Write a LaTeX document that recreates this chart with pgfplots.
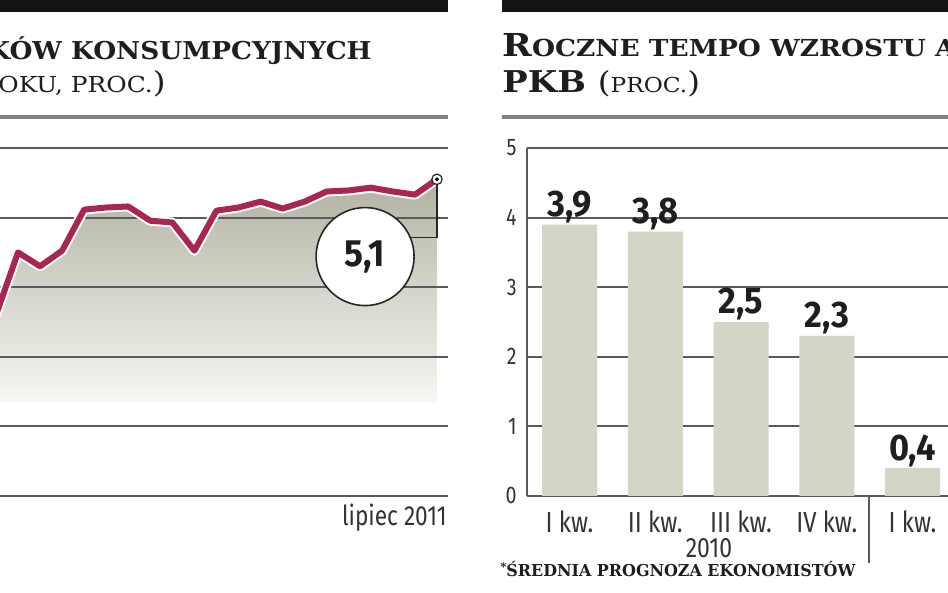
\documentclass[border=0pt]{standalone}
\usepackage{pgfplots}
\pgfplotsset{compat=1.18}
\usepackage{pgfplotstable}
\usepackage{fontspec}
\setmainfont{Fira Sans}
\newfontfamily\cond[FakeStretch=0.82]{Fira Sans}
\newfontfamily\condb[FakeStretch=0.93]{Fira Sans}
\newfontfamily\slab[FakeStretch=1.13]{DejaVu Serif}
\newfontfamily\slabl[FakeStretch=1.07]{DejaVu Serif}
\newfontfamily\slabf[FakeStretch=0.97]{DejaVu Serif}
\definecolor{crim}{HTML}{A82650}
\definecolor{gridc}{HTML}{5A5A5A}
\definecolor{barc}{HTML}{D4D4C7}
\definecolor{filltop}{HTML}{B2B2A2}
\definecolor{fillbot}{HTML}{F7F7F3}
\definecolor{txt}{HTML}{1E1E1E}
\definecolor{lbl}{HTML}{333333}

\pgfplotstableread{
m v
-1 1.2
0 3.0
1 2.6
2 3.05
3 4.23
4 4.29
5 4.32
6 3.91
7 3.86
8 3.05
9 4.2
10 4.29
11 4.46
12 4.26
13 4.46
14 4.75
15 4.78
16 4.86
17 4.75
18 4.66
19 5.1
}\linedata

\pgfplotstableread{
m v
-1 1.2
0 3.0
1 2.6
2 3.05
3 4.23
4 4.29
5 4.32
6 3.91
7 3.86
8 3.05
9 4.2
10 4.29
11 4.46
12 4.26
13 4.46
14 4.75
15 4.78
16 4.86
17 4.75
18 4.66
19 5.1
19 -1.3
-1 -1.3
}\filldata

\pgfplotstableread{
q v
0 3.9
1 3.8
2 2.5
3 2.3
4 0.4
}\bardata

\pgfplotsset{leftgeom/.style={at={(0pt,48.5pt)}, anchor=south west, scale only axis,
  width=224pt, height=174pt,
  xmin=-0.8163, xmax=19.5, ymin=-4, ymax=6,
  major tick length=0, axis line style={draw=none}}}

\begin{document}
\begin{tikzpicture}
\begin{scope}[x=0.5pt,y=0.5pt]
\fill[white] (0,0) rectangle (948,593);
% black bars and rules
\fill[black!92] (0,581) rectangle (448,593);
\fill[black!92] (502,581) rectangle (948,593);
\fill[black!50] (0,474) rectangle (448,478);
\fill[black!50] (502,474) rectangle (948,478);
% titles (clipped to the frame)
\begin{scope}
\clip (0,0) rectangle (948,593);
\node[anchor=base east, inner sep=0, txt] at (372,533) {\slabl\bfseries\fontsize{12.3}{12.3}\selectfont KÓW KONSUMPCYJNYCH};
\node[anchor=base east, inner sep=0, txt] at (166,500) {\slab\fontsize{11}{11}\selectfont OKU, PROC.{\fontsize{14.5}{14.5}\selectfont)}};
\node[anchor=base west, inner sep=0, txt] at (502,536) {\slab\bfseries{\fontsize{15.8}{15.8}\selectfont R}\fontsize{11.7}{11.7}\selectfont OCZNE TEMPO WZROSTU A};
\node[anchor=base west, inner sep=0, txt] at (502,500) {\slab{\bfseries\fontsize{15}{15}\selectfont PKB }{\fontsize{14.5}{14.5}\selectfont(}{\fontsize{10.3}{10.3}\selectfont PROC.}{\fontsize{14.5}{14.5}\selectfont)}};
\end{scope}
\node[anchor=base west, inner sep=0, txt] at (500,16) {\slabf\bfseries\fontsize{8.2}{8.2}\selectfont\raisebox{2.5pt}{\fontsize{6}{6}\selectfont*}ŚREDNIA PROGNOZA EKONOMISTÓW};
\node[anchor=base, inner sep=0, text=lbl] at (709,35) {\cond\fontsize{14}{14}\selectfont 2010};
\draw[gridc, line width=0.8pt] (869,97) -- (869,30);
\end{scope}

% left panel: fill layer
\begin{axis}[leftgeom, xtick=\empty, ytick=\empty]
\addplot[draw=none, top color=filltop, bottom color=fillbot] table[x=m, y=v] {\filldata};
\end{axis}
% left panel: grid and line
\begin{axis}[leftgeom,
  ytick={-4,-2,...,6}, yticklabels={},
  xtick={19}, xticklabels={lipiec 2011},
  xticklabel style={anchor=north east, inner sep=0, xshift=5pt, yshift=-4pt, text=lbl, font=\cond\fontsize{13.8}{13.8}\selectfont},
  ymajorgrids, grid style={gridc, line width=1pt}]
\addplot[white, line width=5pt, line join=round] table[x=m, y=v] {\linedata};
\addplot[crim, line width=3pt, line join=round] table[x=m, y=v] {\linedata};
\addplot[black!85, line width=0.6pt] coordinates {(19,5.1) (19,3.43) (17.78,3.43)};
\addplot[only marks, mark=*, mark size=2.6pt, mark options={fill=white, draw=black!85, line width=0.6pt}] coordinates {(19,5.1)};
\addplot[only marks, mark=*, mark size=0.8pt, black] coordinates {(19,5.1)};
\node[circle, draw=black!85, line width=0.8pt, fill=white, minimum size=49pt, inner sep=0, text=txt]
  at (axis cs:15.74,2.88) {\condb\bfseries\fontsize{19}{19}\selectfont 5,1};
\end{axis}

% right panel
\begin{axis}[at={(263.5pt,48.5pt)}, anchor=south west, scale only axis,
  width=210.5pt, height=174pt,
  xmin=-0.4956, xmax=4.414, ymin=0, ymax=5,
  ytick={0,...,5},
  /pgf/number format/assume math mode=true,
  xtick={0,...,4}, xticklabels={I kw., II kw., III kw., IV kw., I kw.},
  axis x line*=bottom, axis y line*=left,
  axis line style={gridc, line width=1pt},
  major tick length=0,
  ymajorgrids, grid style={gridc, line width=1pt},
  yticklabel style={anchor=east, inner sep=0, xshift=-5pt, text=lbl, font=\cond\fontsize{12}{12}\selectfont},
  xticklabel style={anchor=north, inner sep=0, yshift=-7pt, text=lbl, font=\cond\fontsize{14.5}{14.5}\selectfont},
  ybar, bar width=27.5pt,
  nodes near coords={\pgfmathprintnumber[fixed, fixed zerofill, precision=1, use comma, assume math mode=true]{\pgfplotspointmeta}},
  nodes near coords style={anchor=base, inner sep=0, yshift=4pt, text=txt, font=\condb\bfseries\fontsize{18.5}{18.5}\selectfont},
  clip=false]
\addplot[fill=barc, draw=none] table[x=q, y=v] {\bardata};
\end{axis}

\pgfresetboundingbox
\path (0pt,0pt) rectangle (474pt,296.5pt);
\end{tikzpicture}
\end{document}
